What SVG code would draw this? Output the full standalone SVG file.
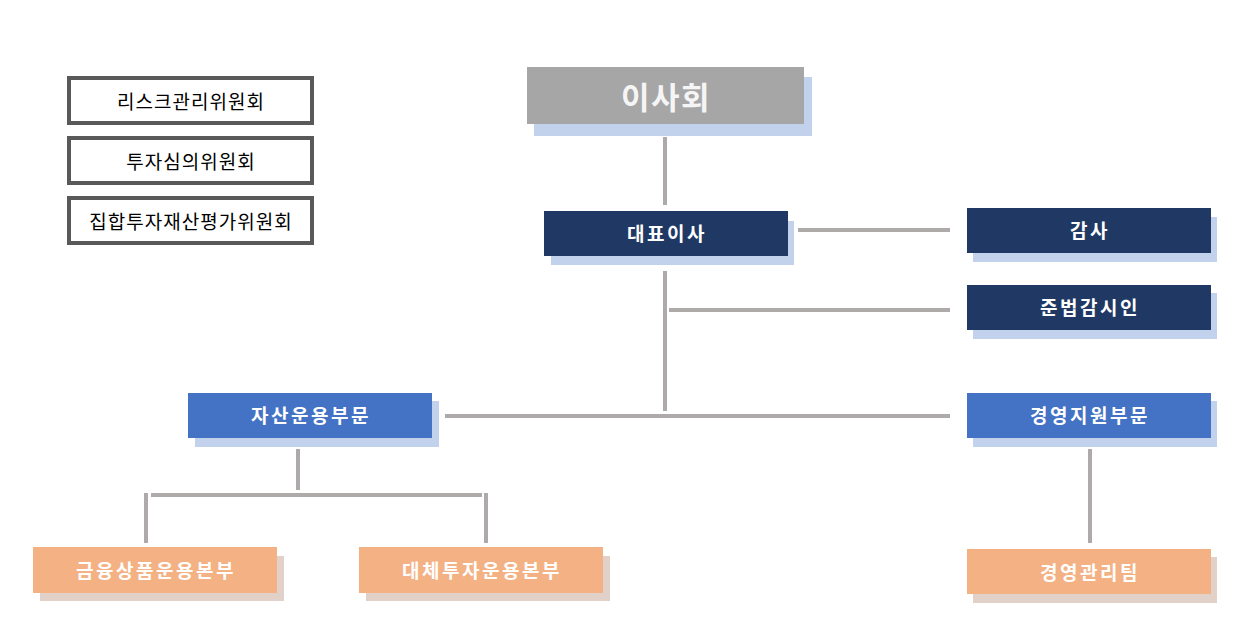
<svg xmlns="http://www.w3.org/2000/svg" width="1250" height="643" viewBox="0 0 1250 643">
<style>
.bg{fill:#ffffff}
.sh-blue{fill:#c2d2ec}
.sh-org{fill:#e2d1c9}
.board{fill:#a6a6a6}
.navy{fill:#203864}
.blue{fill:#4472c4}
.org{fill:#f4b183}
.com{fill:#ffffff;stroke:#595959;stroke-width:4}
.lbl{font-family:"Noto Sans CJK KR","Noto Sans CJK SC",sans-serif;font-weight:bold;font-size:19px;letter-spacing:2.5px;fill:#ffffff;text-anchor:middle;dominant-baseline:central}
.big{font-size:31px;letter-spacing:1.5px;fill:#f5f5f5}
.ctxt{font-family:"Noto Sans CJK KR","Noto Sans CJK SC",sans-serif;font-size:19px;letter-spacing:1px;fill:#000000;text-anchor:middle;dominant-baseline:central}
.conn line{stroke:#aeaaaa;stroke-width:4;fill:none}
</style>
<rect class="bg" x="0" y="0" width="1250" height="643"/>
<g id="connectors" class="conn">
<line x1="665" y1="137" x2="665" y2="205"/>
<line x1="665" y1="271" x2="665" y2="411"/>
<line x1="798" y1="230" x2="950" y2="230"/>
<line x1="669" y1="310" x2="950" y2="310"/>
<line x1="445" y1="416" x2="950" y2="416"/>
<line x1="298" y1="449" x2="298" y2="490"/>
<line x1="151" y1="495" x2="482" y2="495"/>
<line x1="146" y1="493" x2="146" y2="543"/>
<line x1="486" y1="493" x2="486" y2="543"/>
<line x1="1090" y1="449" x2="1090" y2="543"/>
</g>
<g id="risk-committee">
<rect class="com" x="69" y="78" width="243" height="45"/>
<text class="ctxt" x="191" y="100">리스크관리위원회</text>
</g>
<g id="invest-committee">
<rect class="com" x="69" y="138" width="243" height="45"/>
<text class="ctxt" x="191" y="160">투자심의위원회</text>
</g>
<g id="valuation-committee">
<rect class="com" x="69" y="198" width="243" height="45"/>
<text class="ctxt" x="191" y="220">집합투자재산평가위원회</text>
</g>
<g id="board">
<rect class="sh-blue" x="534" y="77" width="278" height="59"/>
<rect class="board" x="527" y="67" width="277" height="57"/>
<text class="lbl big" x="666" y="95">이사회</text>
</g>
<g id="ceo">
<rect class="sh-blue" x="551" y="221" width="243" height="44"/>
<rect class="navy" x="544" y="211" width="244" height="45"/>
<text class="lbl" x="667" y="232">대표이사</text>
</g>
<g id="audit">
<rect class="sh-blue" x="973" y="217" width="244" height="45"/>
<rect class="navy" x="967" y="208" width="244" height="45"/>
<text class="lbl" x="1090" y="229">감사</text>
</g>
<g id="compliance">
<rect class="sh-blue" x="973" y="293" width="244" height="46"/>
<rect class="navy" x="967" y="285" width="244" height="45"/>
<text class="lbl" x="1090" y="306">준법감시인</text>
</g>
<g id="asset-division">
<rect class="sh-blue" x="195" y="401" width="244" height="46"/>
<rect class="blue" x="188" y="393" width="244" height="45"/>
<text class="lbl" x="311" y="414">자산운용부문</text>
</g>
<g id="mgmt-division">
<rect class="sh-blue" x="973" y="401" width="244" height="46"/>
<rect class="blue" x="967" y="393" width="244" height="45"/>
<text class="lbl" x="1090" y="414">경영지원부문</text>
</g>
<g id="fin-product">
<rect class="sh-org" x="40" y="556" width="244" height="45"/>
<rect class="org" x="33" y="547" width="244" height="46"/>
<text class="lbl" x="156" y="569">금융상품운용본부</text>
</g>
<g id="alt-invest">
<rect class="sh-org" x="366" y="556" width="244" height="45"/>
<rect class="org" x="359" y="547" width="244" height="46"/>
<text class="lbl" x="482" y="569">대체투자운용본부</text>
</g>
<g id="mgmt-team">
<rect class="sh-org" x="973" y="557" width="244" height="46"/>
<rect class="org" x="967" y="549" width="244" height="45"/>
<text class="lbl" x="1090" y="571">경영관리팀</text>
</g>
</svg>
